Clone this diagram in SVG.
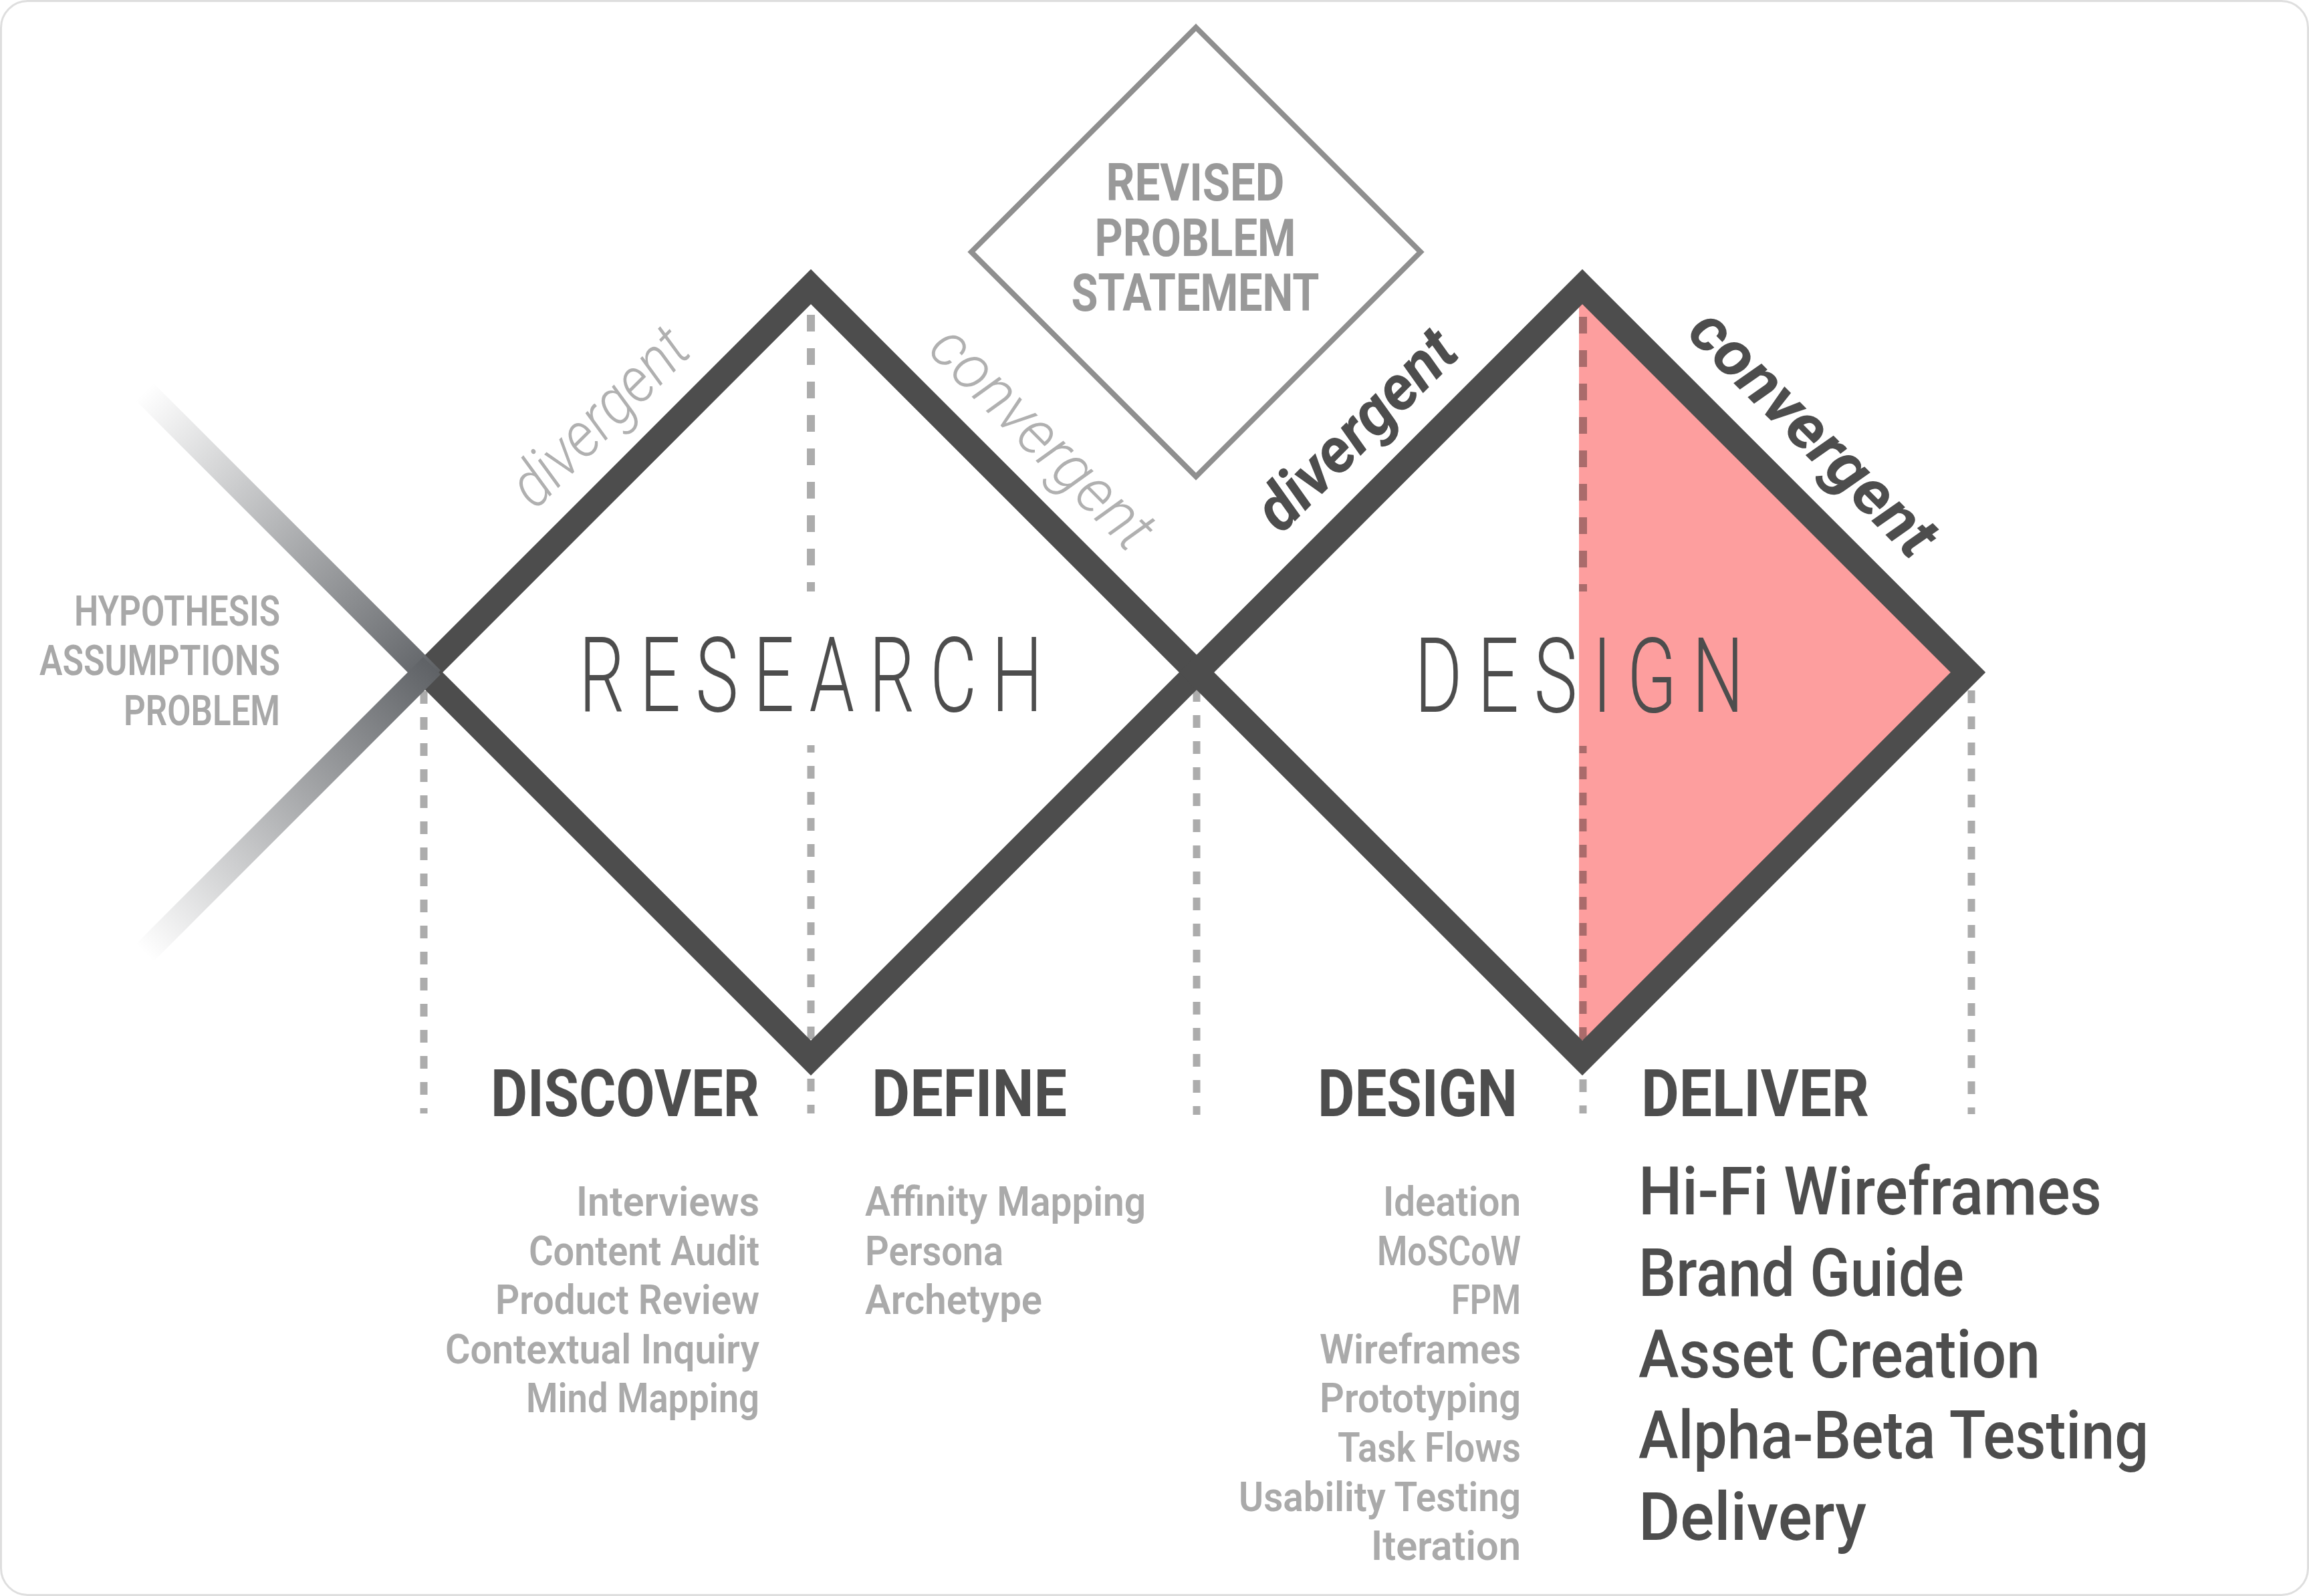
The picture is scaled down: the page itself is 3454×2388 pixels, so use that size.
<svg xmlns="http://www.w3.org/2000/svg" width="3454" height="2388" viewBox="0 0 3454 2388">
<defs>
<style>
.edge{fill:none;stroke:#4d4d4d;stroke-width:37;stroke-linejoin:miter;stroke-miterlimit:10}
.dashA{stroke:#acacac;stroke-width:11;stroke-dasharray:19 20;fill:none}
.dashB{stroke:#acacac;stroke-width:12;stroke-dasharray:25 25;fill:none}
text{font-family:Roboto,"Liberation Sans",sans-serif}
.big{font-size:155px;font-weight:300;fill:#4d4d4d;letter-spacing:32px}
.phase{font-size:98px;font-weight:700;fill:#4d4d4d}
.item{font-size:62px;font-weight:600;fill:#aaaaaa}
.deliv{font-size:100px;font-weight:500;fill:#4d4d4d}
.hyp{font-size:63px;font-weight:600;fill:#a8a8a8}
.rev{font-size:77px;font-weight:700;fill:#999999}
.thin{font-size:95px;font-weight:300;font-style:italic;fill:#b0b0b0}
.bold{font-size:95px;font-weight:700;font-style:italic;fill:#4d4d4d}
</style>
<linearGradient id="fadeUp" gradientUnits="userSpaceOnUse" x1="216" y1="586" x2="646" y2="1016">
<stop offset="0" stop-color="#ffffff"/>
<stop offset="1" stop-color="#5f6266"/>
</linearGradient>
<linearGradient id="fadeDown" gradientUnits="userSpaceOnUse" x1="216" y1="1426" x2="646" y2="996">
<stop offset="0" stop-color="#ffffff"/>
<stop offset="1" stop-color="#5f6266"/>
</linearGradient>
</defs>
<rect x="1.5" y="1.5" width="3451" height="2385" rx="40" fill="#ffffff" stroke="#dedede" stroke-width="3"/>

<g id="guides">
<line class="dashA" x1="634" y1="1034" x2="634" y2="1666"/>
<line class="dashA" x1="1790" y1="1031" x2="1790" y2="1668"/>
<line class="dashA" x1="2949" y1="1033" x2="2949" y2="1667"/>
<line class="dashB" x1="1213" y1="471" x2="1213" y2="885"/>
<line class="dashA" x1="1213" y1="1115" x2="1213" y2="1666" stroke-dashoffset="8"/>
<line class="dashB" x1="2368" y1="474" x2="2368" y2="885"/>
<line class="dashA" x1="2368" y1="1116" x2="2368" y2="1666" stroke-dashoffset="8"/>
</g>

<g id="deliver-highlight">
<polygon points="2362,436 2367,429 2944,1006 2367,1583 2362,1578" fill="#fd9e9e" style="mix-blend-mode:multiply"/>
</g>

<g id="connectors">
<polygon id="research-diamond" class="edge" points="1213,429 1790,1006 1213,1583 636,1006"/>
<polygon id="design-diamond" class="edge" points="2367,429 2944,1006 2367,1583 1790,1006"/>
<line x1="216" y1="586" x2="646" y2="1016" stroke="url(#fadeUp)" stroke-width="37"/>
<line x1="216" y1="1426" x2="646" y2="996" stroke="url(#fadeDown)" stroke-width="37"/>
</g>

<g id="start">
<text class="hyp" x="419" y="936" text-anchor="end" textLength="308" lengthAdjust="spacingAndGlyphs">HYPOTHESIS</text>
<text class="hyp" x="419" y="1010" text-anchor="end" textLength="360" lengthAdjust="spacingAndGlyphs">ASSUMPTIONS</text>
<text class="hyp" x="419" y="1085" text-anchor="end" textLength="234" lengthAdjust="spacingAndGlyphs">PROBLEM</text>
</g>

<g id="revised-problem">
<polygon points="1789,41 2125,377 1789,713 1453,377" fill="none" stroke="#8f8f8f" stroke-width="8"/>
<text class="rev" x="1788" y="300" text-anchor="middle" textLength="267" lengthAdjust="spacingAndGlyphs">REVISED</text>
<text class="rev" x="1788" y="383" text-anchor="middle" textLength="301" lengthAdjust="spacingAndGlyphs">PROBLEM</text>
<text class="rev" x="1788" y="465" text-anchor="middle" textLength="371" lengthAdjust="spacingAndGlyphs">STATEMENT</text>
</g>

<g id="research">
<text class="big" x="866" y="1064" textLength="716" lengthAdjust="spacingAndGlyphs">RESEARCH</text>
<text class="thin" transform="translate(919,646) rotate(-45)" text-anchor="middle" textLength="335" lengthAdjust="spacingAndGlyphs">divergent</text>
<text class="thin" transform="translate(1537,677) rotate(45)" text-anchor="middle" textLength="430" lengthAdjust="spacingAndGlyphs">convergent</text>
</g>

<g id="design">
<text class="big" x="2116" y="1065" textLength="515" lengthAdjust="spacingAndGlyphs">DESIGN</text>
<text class="bold" transform="translate(2051,666) rotate(-45)" text-anchor="middle" textLength="382" lengthAdjust="spacingAndGlyphs">divergent</text>
<text class="bold" transform="translate(2690,670) rotate(45)" text-anchor="middle" textLength="480" lengthAdjust="spacingAndGlyphs">convergent</text>
</g>

<g id="discover">
<text class="phase" x="734" y="1670" textLength="402" lengthAdjust="spacingAndGlyphs">DISCOVER</text>
<text class="item" x="1136" y="1819" text-anchor="end" textLength="274" lengthAdjust="spacingAndGlyphs">Interviews</text>
<text class="item" x="1136" y="1893" text-anchor="end" textLength="345" lengthAdjust="spacingAndGlyphs">Content Audit</text>
<text class="item" x="1136" y="1966" text-anchor="end" textLength="395" lengthAdjust="spacingAndGlyphs">Product Review</text>
<text class="item" x="1136" y="2040" text-anchor="end" textLength="470" lengthAdjust="spacingAndGlyphs">Contextual Inquiry</text>
<text class="item" x="1136" y="2113" text-anchor="end" textLength="349" lengthAdjust="spacingAndGlyphs">Mind Mapping</text>
</g>

<g id="define">
<text class="phase" x="1304" y="1670" textLength="292" lengthAdjust="spacingAndGlyphs">DEFINE</text>
<text class="item" x="1294" y="1819" textLength="420" lengthAdjust="spacingAndGlyphs">Affinity Mapping</text>
<text class="item" x="1294" y="1893" textLength="207" lengthAdjust="spacingAndGlyphs">Persona</text>
<text class="item" x="1294" y="1966" textLength="265" lengthAdjust="spacingAndGlyphs">Archetype</text>
</g>

<g id="design-phase">
<text class="phase" x="1971" y="1670" textLength="299" lengthAdjust="spacingAndGlyphs">DESIGN</text>
<text class="item" x="2275" y="1819" text-anchor="end" textLength="206" lengthAdjust="spacingAndGlyphs">Ideation</text>
<text class="item" x="2275" y="1893" text-anchor="end" textLength="215" lengthAdjust="spacingAndGlyphs">MoSCoW</text>
<text class="item" x="2275" y="1966" text-anchor="end" textLength="104" lengthAdjust="spacingAndGlyphs">FPM</text>
<text class="item" x="2275" y="2040" text-anchor="end" textLength="301" lengthAdjust="spacingAndGlyphs">Wireframes</text>
<text class="item" x="2275" y="2113" text-anchor="end" textLength="301" lengthAdjust="spacingAndGlyphs">Prototyping</text>
<text class="item" x="2275" y="2187" text-anchor="end" textLength="274" lengthAdjust="spacingAndGlyphs">Task Flows</text>
<text class="item" x="2275" y="2261" text-anchor="end" textLength="422" lengthAdjust="spacingAndGlyphs">Usability Testing</text>
<text class="item" x="2275" y="2334" text-anchor="end" textLength="224" lengthAdjust="spacingAndGlyphs">Iteration</text>
</g>

<g id="deliver">
<text class="phase" x="2455" y="1670" textLength="341" lengthAdjust="spacingAndGlyphs">DELIVER</text>
<text class="deliv" x="2451" y="1817" textLength="693" lengthAdjust="spacingAndGlyphs">Hi-Fi Wireframes</text>
<text class="deliv" x="2451" y="1939" textLength="487" lengthAdjust="spacingAndGlyphs">Brand Guide</text>
<text class="deliv" x="2451" y="2061" textLength="601" lengthAdjust="spacingAndGlyphs">Asset Creation</text>
<text class="deliv" x="2451" y="2182" textLength="763" lengthAdjust="spacingAndGlyphs">Alpha-Beta Testing</text>
<text class="deliv" x="2451" y="2304" textLength="341" lengthAdjust="spacingAndGlyphs">Delivery</text>
</g>
</svg>
